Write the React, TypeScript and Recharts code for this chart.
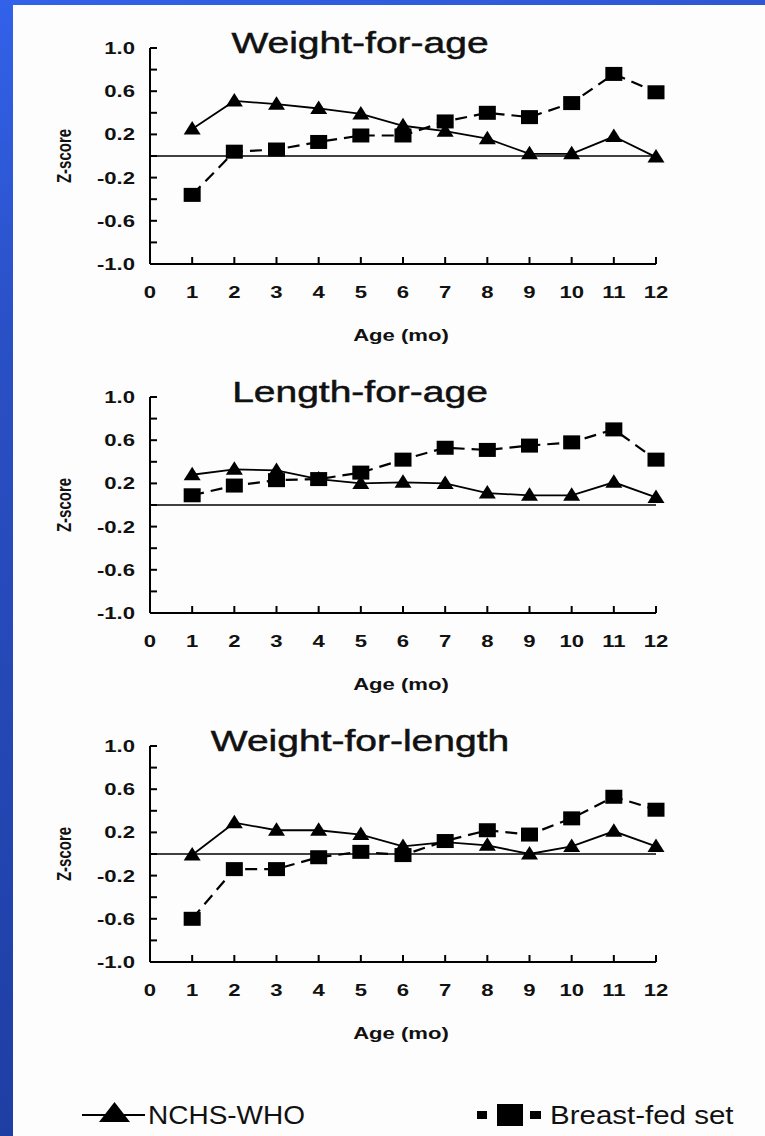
import React from "react";
import { LineChart, Line, XAxis, YAxis, ReferenceLine } from "recharts";

// ages (months) and axis ticks
const MONTHS = [1, 2, 3, 4, 5, 6, 7, 8, 9, 10, 11, 12];
const X_TICKS = [0, 1, 2, 3, 4, 5, 6, 7, 8, 9, 10, 11, 12];
const Y_TICKS = [-1, -0.8, -0.6, -0.4, -0.2, 0, 0.2, 0.4, 0.6, 0.8, 1];
const Y_LABELED = [-1, -0.6, -0.2, 0.2, 0.6, 1];

const SERIES_NAMES = ["NCHS-WHO", "Breast-fed set"];
const TITLES = ["Weight-for-age", "Length-for-age", "Weight-for-length"];

// z-scores
const WFA_NCHS = [0.25, 0.51, 0.48, 0.44, 0.39, 0.28, 0.23, 0.16, 0.02, 0.02, 0.18, -0.01];
const WFA_BF = [-0.36, 0.04, 0.06, 0.13, 0.19, 0.19, 0.32, 0.4, 0.36, 0.49, 0.76, 0.59];
const LFA_NCHS = [0.28, 0.33, 0.32, 0.24, 0.2, 0.21, 0.2, 0.11, 0.09, 0.09, 0.21, 0.07];
const LFA_BF = [0.09, 0.18, 0.23, 0.24, 0.3, 0.42, 0.53, 0.51, 0.55, 0.58, 0.7, 0.42];
const WFL_NCHS = [-0.01, 0.29, 0.22, 0.22, 0.18, 0.07, 0.11, 0.08, 0.0, 0.07, 0.21, 0.07];
const WFL_BF = [-0.6, -0.14, -0.14, -0.03, 0.02, -0.01, 0.12, 0.22, 0.18, 0.33, 0.53, 0.41];

const FONT = '"Liberation Sans", Arial, Helvetica, sans-serif';
const STRETCH = 1.3; // the scanned figure is widened horizontally
const CHART_W = 765;
const CHART_H = 349;
const PLOT_TOP = 48;
const PLOT_LEFT = 150;
const PLOT_RIGHT = 656;
const PLOT_H = 216;
const X_AXIS_H = 80;

function YTick({ x, y, payload }: any) {
  const v = payload.value;
  const major = Y_LABELED.some((t) => Math.abs(t - v) < 1e-6);
  return (
    <g>
      <line x1={x} x2={x + 7} y1={y} y2={y} stroke="#000" strokeWidth={2} />
      {major && (
        <text
          transform={`translate(${x - 15},${y + 6}) scale(${STRETCH},1)`}
          textAnchor="end"
          fontFamily={FONT}
          fontWeight="bold"
          fontSize={17}
          fill="#111"
        >
          {v.toFixed(1)}
        </text>
      )}
    </g>
  );
}

function XTick({ x, y, payload }: any) {
  const v = payload.value;
  return (
    <g>
      {v > 0 && <line x1={x} x2={x} y1={y} y2={y - 7} stroke="#000" strokeWidth={2} />}
      <text
        transform={`translate(${x},${y + 34}) scale(${STRETCH},1)`}
        textAnchor="middle"
        fontFamily={FONT}
        fontWeight="bold"
        fontSize={17}
        fill="#111"
      >
        {v}
      </text>
    </g>
  );
}

const triangleDot = (p: any) => {
  const { cx, cy, index } = p;
  if (cx == null || cy == null) return <g key={`t-${index}`} />;
  return (
    <polygon
      key={`t-${index}`}
      points={`${cx},${cy - 8} ${cx - 8.5},${cy + 5.5} ${cx + 8.5},${cy + 5.5}`}
      fill="#000"
    />
  );
};

const squareDot = (p: any) => {
  const { cx, cy, index } = p;
  if (cx == null || cy == null) return <g key={`s-${index}`} />;
  return <rect key={`s-${index}`} x={cx - 8.5} y={cy - 7} width={17} height={14} fill="#000" />;
};

function Panel({ title, nchs, bf }: { title: string; nchs: number[]; bf: number[] }) {
  const data = MONTHS.map((m, i) => ({ age: m, nchs: nchs[i], bf: bf[i] }));
  const midY = PLOT_TOP + PLOT_H / 2;
  const midX = (PLOT_LEFT + PLOT_RIGHT) / 2;
  return (
    <LineChart
      width={CHART_W}
      height={CHART_H}
      data={data}
      margin={{ top: PLOT_TOP, right: CHART_W - PLOT_RIGHT, left: PLOT_LEFT - 60, bottom: CHART_H - PLOT_TOP - PLOT_H - X_AXIS_H }}
    >
      <XAxis
        type="number"
        dataKey="age"
        domain={[0, 12]}
        ticks={X_TICKS}
        interval={0}
        tick={XTick}
        tickLine={false}
        tickSize={0}
        tickMargin={0}
        height={X_AXIS_H}
        axisLine={{ stroke: "#000", strokeWidth: 2 }}
      />
      <YAxis
        type="number"
        domain={[-1, 1]}
        ticks={Y_TICKS}
        interval={0}
        tick={YTick}
        tickLine={false}
        tickSize={0}
        tickMargin={0}
        width={60}
        axisLine={{ stroke: "#000", strokeWidth: 2 }}
      />
      <ReferenceLine y={0} stroke="#000" strokeWidth={1.6} />
      <Line
        type="linear"
        dataKey="nchs"
        name={SERIES_NAMES[0]}
        stroke="#000"
        strokeWidth={1.8}
        dot={triangleDot}
        activeDot={false}
        isAnimationActive={false}
      />
      <Line
        type="linear"
        dataKey="bf"
        name={SERIES_NAMES[1]}
        stroke="#000"
        strokeWidth={2.2}
        strokeDasharray="12 7"
        dot={squareDot}
        activeDot={false}
        isAnimationActive={false}
      />
      <text
        transform={`translate(360,53) scale(${STRETCH},1)`}
        textAnchor="middle"
        fontFamily={FONT}
        fontSize={30}
        fill="#111"
        stroke="#111"
        strokeWidth={0.5}
      >
        {title}
      </text>
      <text
        transform={`translate(${midX - 2},${PLOT_TOP + PLOT_H + 77}) scale(${STRETCH},1)`}
        textAnchor="middle"
        fontFamily={FONT}
        fontWeight="bold"
        fontSize={17}
        fill="#111"
      >
        Age (mo)
      </text>
      <text
        transform={`translate(64,${midY}) scale(${STRETCH},1) rotate(-90)`}
        y={5}
        textAnchor="middle"
        fontFamily={FONT}
        fontWeight="bold"
        fontSize={15}
        fill="#111"
      >
        Z-score
      </text>
    </LineChart>
  );
}

function LegendRow() {
  return (
    <svg width={765} height={46} style={{ position: "absolute", left: 0, top: 1090 }}>
      <line x1={82} x2={145} y1={25} y2={25} stroke="#000" strokeWidth={2} />
      <polygon points="114.5,12 99,32 130,32" fill="#000" />
      <text
        transform="translate(148,34) scale(1.12,1)"
        fontFamily={FONT}
        fontSize={25}
        fill="#111"
      >
        {SERIES_NAMES[0]}
      </text>
      <rect x={477} y={21} width={10} height={8} fill="#000" />
      <rect x={497} y={14} width={26} height={22} fill="#000" />
      <rect x={530} y={21} width={11} height={8} fill="#000" />
      <text
        transform="translate(550,34) scale(1.18,1)"
        fontFamily={FONT}
        fontSize={25}
        fill="#111"
      >
        {SERIES_NAMES[1]}
      </text>
    </svg>
  );
}

export default function App() {
  const panels = [
    { title: TITLES[0], nchs: WFA_NCHS, bf: WFA_BF },
    { title: TITLES[1], nchs: LFA_NCHS, bf: LFA_BF },
    { title: TITLES[2], nchs: WFL_NCHS, bf: WFL_BF },
  ];
  return (
    <div
      style={{
        position: "absolute",
        left: 0,
        top: 0,
        width: 765,
        height: 1136,
        overflow: "hidden",
        background: "linear-gradient(165deg, #3262ea 0%, #2a50c6 25%, #2447b4 55%, #1d3a9c 100%)",
      }}
    >
      <div style={{ position: "absolute", left: 13, top: 5, width: 752, height: 1131, background: "#fdfdfd" }} />
      {panels.map((p, i) => (
        <div key={p.title} style={{ position: "absolute", left: 0, top: i * CHART_H }}>
          <Panel title={p.title} nchs={p.nchs} bf={p.bf} />
        </div>
      ))}
      <LegendRow />
    </div>
  );
}
